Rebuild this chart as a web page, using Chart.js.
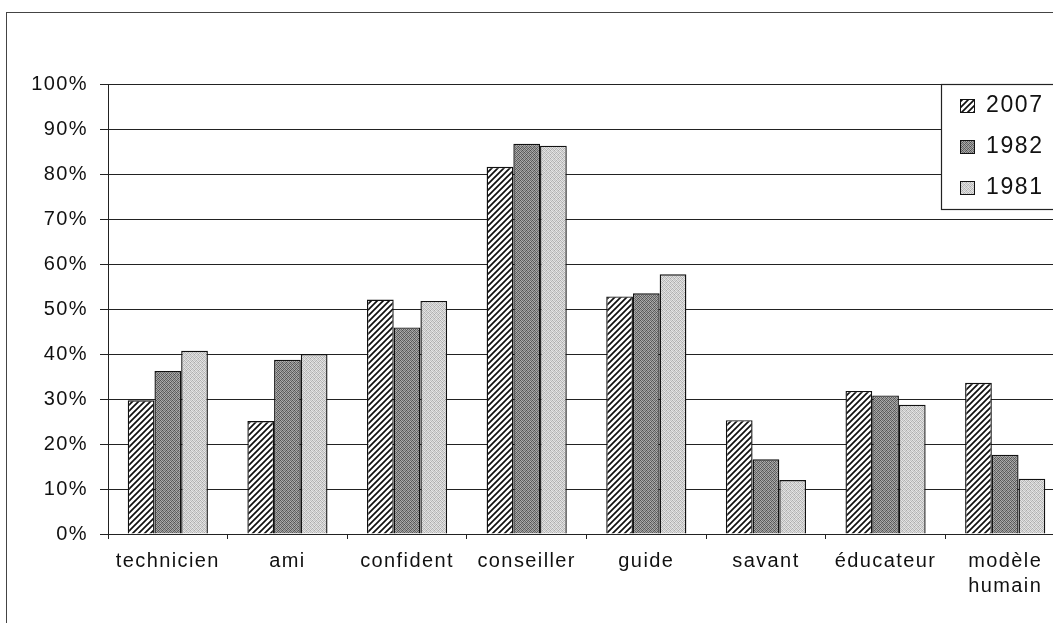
<!DOCTYPE html>
<html>
<head>
<meta charset="utf-8">
<script src="https://cdn.jsdelivr.net/npm/chart.js@4/dist/chart.umd.min.js"></script>
<style>
  body { margin: 0; overflow: hidden; background: #fff; }
  #frame { position: absolute; left: 6px; top: 12px; width: 1200px; height: 700px;
           border-left: 1.5px solid #444; border-top: 1.5px solid #444; pointer-events: none; }
  canvas { position: absolute; left: 0; top: 0; }
</style>
</head>
<body>
<canvas id="myChart" width="1075" height="623"></canvas>
<div id="frame"></div>
<script>
var categories = ['technicien', 'ami', 'confident', 'conseiller', 'guide', 'savant', 'éducateur', ['modèle', 'humain']];
var years = ['2007', '1982', '1981'];
var values2007 = [29.7, 25.1, 52.1, 81.6, 52.8, 25.3, 31.8, 33.6];
var values1982 = [36.2, 38.7, 45.9, 86.7, 53.5, 16.6, 30.8, 17.6];
var values1981 = [40.7, 40.0, 51.8, 86.3, 57.7, 12.0, 28.7, 12.3];
var yTicks = [0, 10, 20, 30, 40, 50, 60, 70, 80, 90, 100];

var FONT = '"Liberation Sans", Arial, sans-serif';
var SPACING = '1.4px';

// hatched pattern for 2007
function hatch() {
  var c = document.createElement('canvas');
  c.width = 6; c.height = 6;
  var g = c.getContext('2d');
  g.fillStyle = '#fff';
  g.fillRect(0, 0, 6, 6);
  g.strokeStyle = '#111';
  g.lineWidth = 1.7;
  g.beginPath();
  g.moveTo(-1, 7); g.lineTo(7, -1);
  g.moveTo(-4, 4); g.lineTo(4, -4);
  g.moveTo(2, 10); g.lineTo(10, 2);
  g.stroke();
  return g.createPattern(c, 'repeat');
}

// dotted grey texture, fixed dither matrix
function stipple(grays) {
  var n = 4;
  var c = document.createElement('canvas');
  c.width = n; c.height = n;
  var g = c.getContext('2d');
  for (var y = 0; y < n; y++) {
    for (var x = 0; x < n; x++) {
      var v = grays[y * n + x];
      g.fillStyle = 'rgb(' + v + ',' + v + ',' + v + ')';
      g.fillRect(x, y, 1, 1);
    }
  }
  return g.createPattern(c, 'repeat');
}

var fill2007 = hatch();
var fill1982 = stipple([85, 170, 110, 155, 165, 100, 180, 90, 125, 155, 80, 165, 175, 95, 160, 105]);
var fill1981 = stipple([175, 228, 195, 218, 222, 185, 232, 180, 200, 218, 170, 228, 232, 190, 214, 195]);

var spacingPlugin = {
  id: 'spacing',
  beforeLayout: function(chart) { chart.ctx.letterSpacing = SPACING; },
  beforeDraw: function(chart) { chart.ctx.letterSpacing = SPACING; }
};

var boxLegend = {
  id: 'boxLegend',
  afterDraw: function(chart) {
    var ctx = chart.ctx;
    var a = chart.chartArea;
    var x0 = a.right - 124;
    var y0 = a.top;
    ctx.save();
    ctx.letterSpacing = '1.6px';
    ctx.fillStyle = '#fff';
    ctx.fillRect(x0, y0, 200, 125);
    ctx.strokeStyle = '#222';
    ctx.lineWidth = 1.2;
    ctx.strokeRect(x0 + 0.5, y0 + 0.5, 200, 125);
    ctx.font = '23px ' + FONT;
    ctx.textBaseline = 'middle';
    chart.data.datasets.forEach(function(ds, i) {
      var cy = y0 + 21 + i * 41;
      ctx.fillStyle = ds.backgroundColor;
      ctx.fillRect(x0 + 19, cy - 6, 15, 14);
      ctx.strokeStyle = '#111';
      ctx.lineWidth = 1;
      ctx.strokeRect(x0 + 19.5, cy - 5.5, 14, 13);
      ctx.fillStyle = '#111';
      ctx.fillText(ds.label, x0 + 45, cy + 1);
    });
    ctx.restore();
  }
};

var ctx = document.getElementById('myChart').getContext('2d');
new Chart(ctx, {
  type: 'bar',
  data: {
    labels: categories,
    datasets: [
      { label: years[0], data: values2007, backgroundColor: fill2007 },
      { label: years[1], data: values1982, backgroundColor: fill1982 },
      { label: years[2], data: values1981, backgroundColor: fill1981 }
    ]
  },
  options: {
    responsive: false,
    animation: false,
    layout: { padding: { left: 0, top: 84, right: 10, bottom: 0 } },
    datasets: {
      bar: {
        borderColor: '#111',
        borderWidth: 1.4,
        categoryPercentage: 0.67,
        barPercentage: 1
      }
    },
    plugins: {
      legend: { display: false },
      tooltip: { enabled: false }
    },
    scales: {
      x: {
        offset: true,
        grid: { drawOnChartArea: false, drawTicks: true, tickLength: 5, color: '#222', offset: true },
        border: { color: '#222', width: 1 },
        ticks: {
          color: '#111',
          padding: 10,
          maxRotation: 0,
          autoSkip: false,
          font: { family: FONT, size: 20, lineHeight: 1.25 }
        },
        afterFit: function(scale) { scale.height = 89; }
      },
      y: {
        min: 0,
        max: 100,
        afterBuildTicks: function(scale) {
          scale.ticks = yTicks.map(function(v) { return { value: v }; });
        },
        grid: { color: '#222', lineWidth: 1, tickLength: 8 },
        border: { color: '#222', width: 1 },
        ticks: {
          color: '#111',
          padding: 12,
          font: { family: FONT, size: 20 },
          callback: function(v) { return v + '%'; }
        },
        afterFit: function(scale) { scale.width = 108; }
      }
    }
  },
  plugins: [spacingPlugin, boxLegend]
});
</script>
</body>
</html>
